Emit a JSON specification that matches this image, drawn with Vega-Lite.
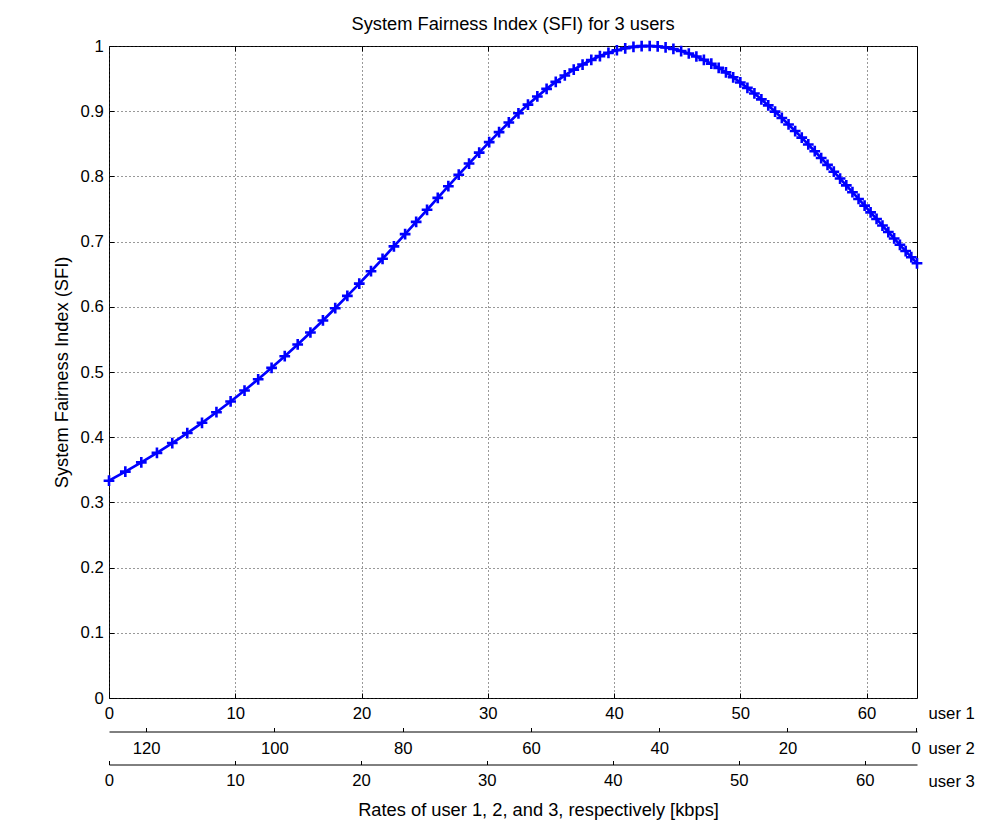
{
  "$schema": "https://vega.github.io/schema/vega-lite/v6.json",
  "autosize": {"type": "none"},
  "padding": {"left": 109, "top": 46, "right": 86, "bottom": 126},
  "width": 808,
  "height": 652,
  "background": "white",
  "title": {"text": "System Fairness Index (SFI) for 3 users", "anchor": "middle", "frame": "group", "font": "Liberation Sans", "fontSize": 18.3, "fontWeight": "normal", "color": "#000", "offset": -13, "baseline": "alphabetic"},
  "config": {
    "view": {"stroke": "#000", "strokeWidth": 1},
    "axis": {"labelFont": "Liberation Sans", "titleFont": "Liberation Sans", "labelColor": "#000", "titleColor": "#000", "tickColor": "#000", "domainColor": "#000", "labelFontSize": 16.7, "titleFontSize": 16.7, "titleFontWeight": "normal", "tickWidth": 1, "domainWidth": 1}
  },
  "data": {"values": [
    {"u1": 0, "u2": 128, "u3": 0, "sfi": 0.3333},
    {"u1": 1.293, "u2": 125.414, "u3": 1.293, "sfi": 0.3472},
    {"u1": 2.559, "u2": 122.882, "u3": 2.559, "sfi": 0.3614},
    {"u1": 3.798, "u2": 120.404, "u3": 3.798, "sfi": 0.376},
    {"u1": 5.012, "u2": 117.976, "u3": 5.012, "sfi": 0.391},
    {"u1": 6.201, "u2": 115.598, "u3": 6.201, "sfi": 0.4064},
    {"u1": 7.367, "u2": 113.266, "u3": 7.367, "sfi": 0.4221},
    {"u1": 8.511, "u2": 110.978, "u3": 8.511, "sfi": 0.4383},
    {"u1": 9.633, "u2": 108.734, "u3": 9.633, "sfi": 0.4548},
    {"u1": 10.734, "u2": 106.532, "u3": 10.734, "sfi": 0.4716},
    {"u1": 11.816, "u2": 104.368, "u3": 11.816, "sfi": 0.4888},
    {"u1": 12.878, "u2": 102.244, "u3": 12.878, "sfi": 0.5064},
    {"u1": 13.921, "u2": 100.158, "u3": 13.921, "sfi": 0.5242},
    {"u1": 14.946, "u2": 98.108, "u3": 14.946, "sfi": 0.5422},
    {"u1": 15.954, "u2": 96.092, "u3": 15.954, "sfi": 0.5606},
    {"u1": 16.945, "u2": 94.11, "u3": 16.945, "sfi": 0.5791},
    {"u1": 17.92, "u2": 92.16, "u3": 17.92, "sfi": 0.5978},
    {"u1": 18.879, "u2": 90.242, "u3": 18.879, "sfi": 0.6167},
    {"u1": 19.823, "u2": 88.354, "u3": 19.823, "sfi": 0.6356},
    {"u1": 20.752, "u2": 86.496, "u3": 20.752, "sfi": 0.6546},
    {"u1": 21.667, "u2": 84.666, "u3": 21.667, "sfi": 0.6736},
    {"u1": 22.568, "u2": 82.864, "u3": 22.568, "sfi": 0.6926},
    {"u1": 23.456, "u2": 81.088, "u3": 23.456, "sfi": 0.7115},
    {"u1": 24.33, "u2": 79.34, "u3": 24.33, "sfi": 0.7302},
    {"u1": 25.192, "u2": 77.616, "u3": 25.192, "sfi": 0.7488},
    {"u1": 26.041, "u2": 75.918, "u3": 26.041, "sfi": 0.7671},
    {"u1": 26.879, "u2": 74.242, "u3": 26.879, "sfi": 0.785},
    {"u1": 27.704, "u2": 72.592, "u3": 27.704, "sfi": 0.8026},
    {"u1": 28.519, "u2": 70.962, "u3": 28.519, "sfi": 0.8197},
    {"u1": 29.322, "u2": 69.356, "u3": 29.322, "sfi": 0.8364},
    {"u1": 30.115, "u2": 67.77, "u3": 30.115, "sfi": 0.8525},
    {"u1": 30.897, "u2": 66.206, "u3": 30.897, "sfi": 0.8679},
    {"u1": 31.67, "u2": 64.66, "u3": 31.67, "sfi": 0.8827},
    {"u1": 32.432, "u2": 63.136, "u3": 32.432, "sfi": 0.8968},
    {"u1": 33.185, "u2": 61.63, "u3": 33.185, "sfi": 0.9101},
    {"u1": 33.928, "u2": 60.144, "u3": 33.928, "sfi": 0.9226},
    {"u1": 34.662, "u2": 58.676, "u3": 34.662, "sfi": 0.9342},
    {"u1": 35.387, "u2": 57.226, "u3": 35.387, "sfi": 0.945},
    {"u1": 36.103, "u2": 55.794, "u3": 36.103, "sfi": 0.9548},
    {"u1": 36.811, "u2": 54.378, "u3": 36.811, "sfi": 0.9637},
    {"u1": 37.51, "u2": 52.98, "u3": 37.51, "sfi": 0.9716},
    {"u1": 38.202, "u2": 51.596, "u3": 38.202, "sfi": 0.9786},
    {"u1": 38.885, "u2": 50.23, "u3": 38.885, "sfi": 0.9845},
    {"u1": 39.561, "u2": 48.878, "u3": 39.561, "sfi": 0.9895},
    {"u1": 40.229, "u2": 47.542, "u3": 40.229, "sfi": 0.9935},
    {"u1": 40.889, "u2": 46.222, "u3": 40.889, "sfi": 0.9965},
    {"u1": 41.542, "u2": 44.916, "u3": 41.542, "sfi": 0.9986},
    {"u1": 42.189, "u2": 43.622, "u3": 42.189, "sfi": 0.9998},
    {"u1": 42.828, "u2": 42.344, "u3": 42.828, "sfi": 1.0},
    {"u1": 43.46, "u2": 41.08, "u3": 43.46, "sfi": 0.9993},
    {"u1": 44.086, "u2": 39.828, "u3": 44.086, "sfi": 0.9978},
    {"u1": 44.705, "u2": 38.59, "u3": 44.705, "sfi": 0.9955},
    {"u1": 45.318, "u2": 37.364, "u3": 45.318, "sfi": 0.9923},
    {"u1": 45.925, "u2": 36.15, "u3": 45.925, "sfi": 0.9885},
    {"u1": 46.525, "u2": 34.95, "u3": 46.525, "sfi": 0.9839},
    {"u1": 47.12, "u2": 33.76, "u3": 47.12, "sfi": 0.9787},
    {"u1": 47.708, "u2": 32.584, "u3": 47.708, "sfi": 0.9728},
    {"u1": 48.291, "u2": 31.418, "u3": 48.291, "sfi": 0.9664},
    {"u1": 48.868, "u2": 30.264, "u3": 48.868, "sfi": 0.9595},
    {"u1": 49.44, "u2": 29.12, "u3": 49.44, "sfi": 0.952},
    {"u1": 50.006, "u2": 27.988, "u3": 50.006, "sfi": 0.9441},
    {"u1": 50.567, "u2": 26.866, "u3": 50.567, "sfi": 0.9358},
    {"u1": 51.122, "u2": 25.756, "u3": 51.122, "sfi": 0.9272},
    {"u1": 51.673, "u2": 24.654, "u3": 51.673, "sfi": 0.9182},
    {"u1": 52.218, "u2": 23.564, "u3": 52.218, "sfi": 0.9089},
    {"u1": 52.758, "u2": 22.484, "u3": 52.758, "sfi": 0.8994},
    {"u1": 53.294, "u2": 21.412, "u3": 53.294, "sfi": 0.8896},
    {"u1": 53.825, "u2": 20.35, "u3": 53.825, "sfi": 0.8797},
    {"u1": 54.351, "u2": 19.298, "u3": 54.351, "sfi": 0.8696},
    {"u1": 54.872, "u2": 18.256, "u3": 54.872, "sfi": 0.8594},
    {"u1": 55.389, "u2": 17.222, "u3": 55.389, "sfi": 0.849},
    {"u1": 55.902, "u2": 16.196, "u3": 55.902, "sfi": 0.8386},
    {"u1": 56.41, "u2": 15.18, "u3": 56.41, "sfi": 0.8282},
    {"u1": 56.913, "u2": 14.174, "u3": 56.913, "sfi": 0.8177},
    {"u1": 57.413, "u2": 13.174, "u3": 57.413, "sfi": 0.8072},
    {"u1": 57.908, "u2": 12.184, "u3": 57.908, "sfi": 0.7967},
    {"u1": 58.4, "u2": 11.2, "u3": 58.4, "sfi": 0.7862},
    {"u1": 58.887, "u2": 10.226, "u3": 58.887, "sfi": 0.7758},
    {"u1": 59.37, "u2": 9.26, "u3": 59.37, "sfi": 0.7654},
    {"u1": 59.85, "u2": 8.3, "u3": 59.85, "sfi": 0.7551},
    {"u1": 60.325, "u2": 7.35, "u3": 60.325, "sfi": 0.7448},
    {"u1": 60.797, "u2": 6.406, "u3": 60.797, "sfi": 0.7347},
    {"u1": 61.265, "u2": 5.47, "u3": 61.265, "sfi": 0.7246},
    {"u1": 61.729, "u2": 4.542, "u3": 61.729, "sfi": 0.7147},
    {"u1": 62.19, "u2": 3.62, "u3": 62.19, "sfi": 0.7048},
    {"u1": 62.647, "u2": 2.706, "u3": 62.647, "sfi": 0.6951},
    {"u1": 63.101, "u2": 1.798, "u3": 63.101, "sfi": 0.6855},
    {"u1": 63.551, "u2": 0.898, "u3": 63.551, "sfi": 0.6761},
    {"u1": 64, "u2": 0, "u3": 64, "sfi": 0.6667}
  ]},
  "layer": [
    {
      "layer": [
        {
          "mark": {"type": "line", "color": "#0000ff", "strokeWidth": 2.7},
          "encoding": {
            "x": {"field": "u1", "type": "quantitative", "scale": {"domain": [0, 64], "nice": false, "zero": false},
              "axis": {"orient": "bottom", "values": [0, 10, 20, 30, 40, 50, 60], "grid": true, "gridDash": [1, 3], "gridColor": "#333", "gridOpacity": 1, "gridWidth": 1, "domain": false, "tickSize": -5, "labelPadding": 25, "labelBaseline": "alphabetic", "labelFlush": false, "labelOverlap": false, "title": "user 1", "titleAngle": 0, "titleAlign": "left", "titleBaseline": "alphabetic", "titleX": 819, "titleY": 20.5}},
            "y": {"field": "sfi", "type": "quantitative", "scale": {"domain": [0, 1], "nice": false, "zero": false},
              "axis": {"orient": "left", "values": [0, 0.1, 0.2, 0.3, 0.4, 0.5, 0.6, 0.7, 0.8, 0.9, 1], "format": ".1~f", "grid": true, "gridDash": [1, 3], "gridColor": "#333", "gridOpacity": 1, "gridWidth": 1, "domain": false, "tickSize": -5, "labelPadding": 10.7, "labelFlush": false, "labelOverlap": false, "title": "System Fairness Index (SFI)", "titleAngle": -90, "titleAlign": "center", "titleBaseline": "alphabetic", "titleX": -42, "titleY": 326, "titleFontSize": 18.3}}
          }
        },
        {
          "mark": {"type": "point", "shape": "M-1,0L1,0M0,-1L0,1", "filled": false, "color": "#0000ff", "strokeWidth": 2.6, "size": 115, "opacity": 1},
          "encoding": {
            "x": {"field": "u1", "type": "quantitative"},
            "y": {"field": "sfi", "type": "quantitative"}
          }
        }
      ]
    },
    {
      "mark": {"type": "point", "opacity": 0},
      "encoding": {
        "x": {"field": "u1", "type": "quantitative", "scale": {"domain": [0, 64], "nice": false, "zero": false},
          "axis": {"orient": "top", "values": [10, 20, 30, 40, 50, 60], "labels": false, "domain": false, "grid": false, "tickSize": -5, "title": null}},
        "y": {"field": "sfi", "type": "quantitative", "scale": {"domain": [0, 1], "nice": false, "zero": false},
          "axis": {"orient": "right", "values": [0.1, 0.2, 0.3, 0.4, 0.5, 0.6, 0.7, 0.8, 0.9], "labels": false, "domain": false, "grid": false, "tickSize": -5, "title": null}}
      }
    },
    {
      "mark": {"type": "point", "opacity": 0},
      "encoding": {
        "x": {"field": "u2", "type": "quantitative", "scale": {"domain": [-0.2, 125.8], "reverse": true, "nice": false, "zero": false},
          "axis": {"orient": "bottom", "offset": 33.5, "values": [0, 20, 40, 60, 80, 100, 120], "grid": false, "domain": true, "tickSize": -4, "labelPadding": 25.8, "labelBaseline": "alphabetic", "labelFlush": false, "labelOverlap": false, "title": "user 2", "titleAngle": 0, "titleAlign": "left", "titleBaseline": "alphabetic", "titleX": 819, "titleY": 21.6}}
      }
    },
    {
      "mark": {"type": "point", "opacity": 0},
      "encoding": {
        "x": {"field": "u3", "type": "quantitative", "scale": {"domain": [0, 64.15], "nice": false, "zero": false},
          "axis": {"orient": "bottom", "offset": 66.5, "values": [0, 10, 20, 30, 40, 50, 60], "grid": false, "domain": true, "tickSize": -4, "labelPadding": 25.2, "labelBaseline": "alphabetic", "labelFlush": false, "labelOverlap": false, "title": "user 3", "titleAngle": 0, "titleAlign": "left", "titleBaseline": "alphabetic", "titleX": 819, "titleY": 22}}
      }
    },
    {
      "mark": {"type": "point", "opacity": 0},
      "encoding": {
        "x": {"field": "u1", "type": "quantitative", "scale": {"domain": [0, 64], "nice": false, "zero": false},
          "axis": {"orient": "bottom", "offset": 66.5, "domain": false, "ticks": false, "labels": false, "grid": false, "title": "Rates of user 1, 2, and 3, respectively [kbps]", "titleAngle": 0, "titleAlign": "center", "titleBaseline": "alphabetic", "titleX": 429, "titleY": 51, "titleFontSize": 18.3}}
      }
    }
  ],
  "resolve": {"scale": {"x": "independent", "y": "independent"}, "axis": {"x": "independent", "y": "independent"}}
}
